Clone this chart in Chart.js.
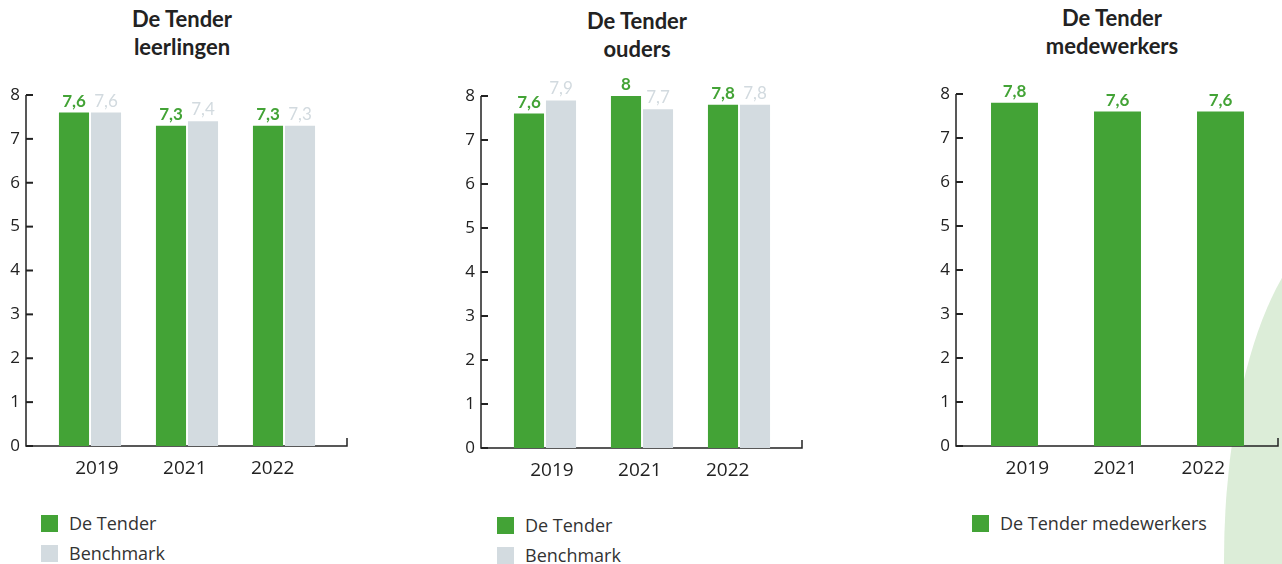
<!DOCTYPE html>
<html>
<head>
<meta charset="utf-8">
<script src="https://cdn.jsdelivr.net/npm/chart.js@4.4.1/dist/chart.umd.min.js"></script>
<style>
  body { margin: 0; width: 1282px; height: 564px; background: #fff; overflow: hidden; position: relative; font-family: "Open Sans", sans-serif; }
  .blob { position: absolute; left: 1224px; top: 220px; width: 262px; height: 680px; border-radius: 50%; background: #dcedd8; }
  .box { position: absolute; }
  .title { position: absolute; width: 300px; text-align: center; font: bold 22px/28px Lato, sans-serif; color: #222; }
  .legend { position: absolute; font-size: 18px; color: #333; }
  .legend div { height: 30px; display: flex; align-items: center; }
  .legend span { display: inline-block; width: 17px; height: 17px; margin-right: 11px; }
</style>
</head>
<body>
<div class="blob"></div>

<div class="title" style="left:32px;top:5px">De Tender<br>leerlingen</div>
<div class="title" style="left:487px;top:7px">De Tender<br>ouders</div>
<div class="title" style="left:962px;top:4px">De Tender<br>medewerkers</div>

<div class="box" style="left:0;top:0"><canvas id="leerlingen" width="360" height="486"></canvas></div>
<div class="box" style="left:455px;top:2px"><canvas id="ouders" width="360" height="486"></canvas></div>
<div class="box" style="left:930px;top:0"><canvas id="medewerkers" width="352" height="486"></canvas></div>

<div class="legend" id="legend1" style="left:41px;top:508px"></div>
<div class="legend" id="legend2" style="left:497px;top:510px"></div>
<div class="legend" id="legend3" style="left:972px;top:508px"></div>

<script>
// data
const years = ['2019', '2021', '2022'];
const leerlingenTender = [7.6, 7.3, 7.3];
const leerlingenBenchmark = [7.6, 7.4, 7.3];
const oudersTender = [7.6, 8, 7.8];
const oudersBenchmark = [7.9, 7.7, 7.8];
const medewerkersTender = [7.8, 7.6, 7.6];
const yMin = 0;
const yMax = 8;

const green = '#43a336';
const grey = '#d3dbe0';
const greyText = '#d2dadf';

// y axis line, inward ticks, x axis line with end tick
const axisFrame = {
  id: 'axisFrame',
  beforeDatasetsDraw(chart, args, opts) {
    const ctx = chart.ctx;
    const area = chart.chartArea;
    const y = chart.scales.y;
    const x0 = area.left - opts.left;
    const x1 = area.right + opts.right;
    const yb = y.getPixelForValue(yMin);
    ctx.save();
    ctx.strokeStyle = '#222';
    ctx.lineWidth = 1.5;
    ctx.beginPath();
    ctx.moveTo(x0, y.getPixelForValue(yMax));
    ctx.lineTo(x0, yb);
    ctx.lineTo(x1, yb);
    ctx.lineTo(x1, yb - 8);
    ctx.stroke();
    ctx.lineWidth = 2;
    y.ticks.forEach(t => {
      const py = y.getPixelForValue(t.value);
      ctx.beginPath();
      ctx.moveTo(x0, py);
      ctx.lineTo(x0 + 7, py);
      ctx.stroke();
    });
    ctx.restore();
  }
};

// value labels above bars
const valueLabels = {
  id: 'valueLabels',
  afterDatasetsDraw(chart) {
    const ctx = chart.ctx;
    ctx.save();
    ctx.textAlign = 'center';
    ctx.textBaseline = 'alphabetic';
    chart.data.datasets.forEach((ds, i) => {
      const meta = chart.getDatasetMeta(i);
      ctx.fillStyle = ds.labelColor;
      ctx.font = ds.labelFont;
      meta.data.forEach((bar, j) => {
        ctx.fillText(String(ds.data[j]).replace('.', ','), bar.x, bar.y - 6);
      });
    });
    ctx.restore();
  }
};

// year labels sit on their own axis: in the original they are spaced
// a bit tighter than the bar groups
function makeChart(id, datasets, areaLeft, padRight, padTop, frame, catPct, barPct, yearRange) {
  return new Chart(document.getElementById(id), {
    type: 'bar',
    data: { labels: years, datasets: datasets },
    options: {
      responsive: false,
      animation: false,
      layout: { padding: { left: 0, right: padRight, top: padTop, bottom: 0 } },
      datasets: { bar: { categoryPercentage: catPct, barPercentage: barPct } },
      plugins: {
        legend: { display: false },
        tooltip: { enabled: false },
        axisFrame: frame
      },
      scales: {
        x: { display: false },
        years: {
          type: 'linear',
          position: 'bottom',
          bounds: 'data',
          offset: false,
          min: yearRange[0],
          max: yearRange[1],
          grid: { display: false, drawTicks: false, offset: false },
          border: { display: false },
          afterBuildTicks(scale) { scale.ticks = years.map((y, i) => ({ value: i })); },
          ticks: {
            autoSkip: false,
            maxRotation: 0,
            color: '#222',
            padding: 11,
            font: { family: 'Open Sans', size: 19 },
            callback: v => years[Math.round(v)] || ''
          },
          afterFit(scale) { scale.height = 40; }
        },
        y: {
          min: yMin,
          max: yMax,
          grid: { display: false, drawTicks: false },
          border: { display: false },
          ticks: { stepSize: 1, color: '#222', padding: frame.left + 6, font: { family: 'Open Sans', size: 17 } },
          afterFit(scale) { scale.width = areaLeft; }
        }
      }
    },
    plugins: [axisFrame, valueLabels]
  });
}

function tenderSet(label, values) {
  return { label: label, data: values, backgroundColor: green, labelColor: green, labelFont: 'bold 17px Lato' };
}
function benchSet(values) {
  return { label: 'Benchmark', data: values, backgroundColor: grey, labelColor: greyText, labelFont: '17px Lato' };
}

const charts = [
  makeChart('leerlingen', [tenderSet('De Tender', leerlingenTender), benchSet(leerlingenBenchmark)],
    41.5, 27.5, 95, { left: 15.5, right: 14.5 }, 0.66, 0.94, [-0.63, 2.68]),
  makeChart('ouders', [tenderSet('De Tender', oudersTender), benchSet(oudersBenchmark)],
    41.5, 27.5, 94, { left: 15.5, right: 14.5 }, 0.66, 0.94, [-0.63, 2.68]),
  makeChart('medewerkers', [tenderSet('De Tender medewerkers', medewerkersTender)],
    33, 10, 94, { left: 7, right: 6 }, 0.456, 1, [-0.73, 2.78])
];

// html legends from the datasets
charts.forEach((c, i) => {
  const el = document.getElementById('legend' + (i + 1));
  c.data.datasets.forEach(ds => {
    const row = document.createElement('div');
    const sw = document.createElement('span');
    sw.style.background = ds.backgroundColor;
    row.appendChild(sw);
    row.appendChild(document.createTextNode(ds.label));
    el.appendChild(row);
  });
});
</script>
</body>
</html>
